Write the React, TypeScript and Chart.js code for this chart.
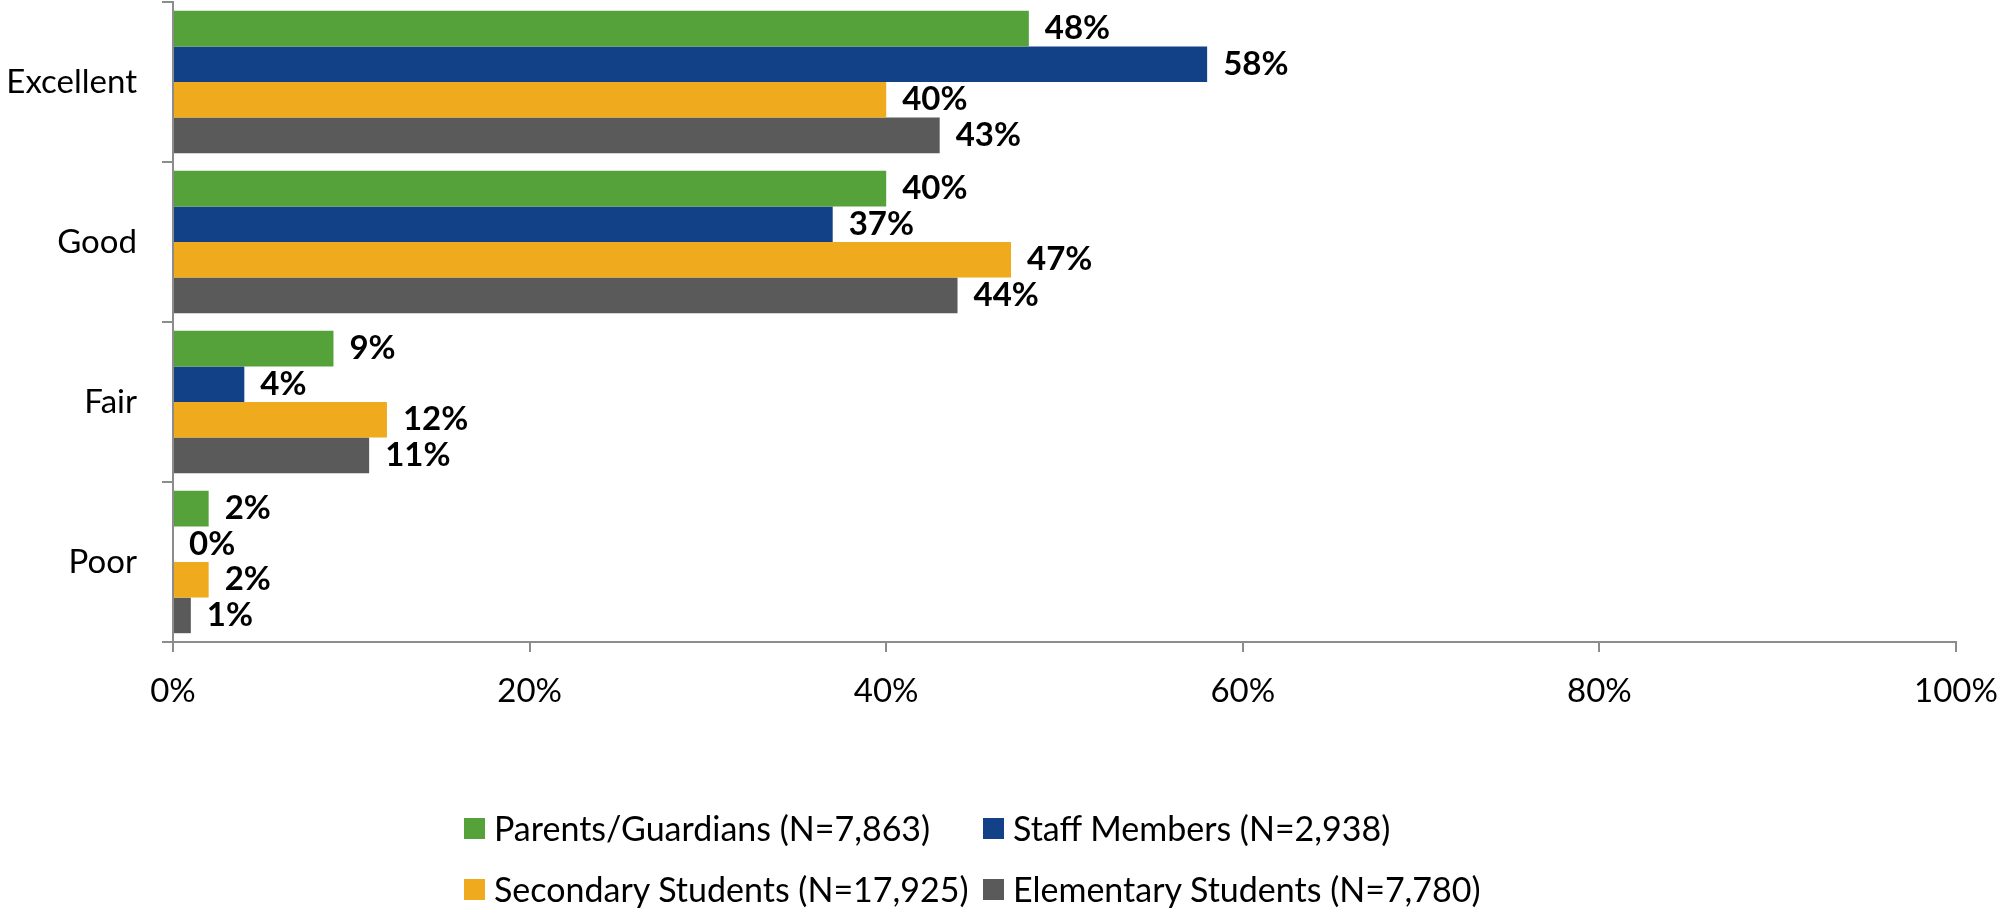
import React, { useEffect, useRef } from 'react';
import { Chart, registerables } from 'chart.js';

Chart.register(...registerables);

const categories = ['Excellent', 'Good', 'Fair', 'Poor'];
const seriesNames = [
  'Parents/Guardians (N=7,863)',
  'Staff Members (N=2,938)',
  'Secondary Students (N=17,925)',
  'Elementary Students (N=7,780)',
];
const parents = [48, 40, 9, 2];
const staff = [58, 37, 4, 0];
const secondary = [40, 47, 12, 2];
const elementary = [43, 44, 11, 1];
const xTicks = [0, 20, 40, 60, 80, 100];

const colors = ['#55A23A', '#134187', '#F0AA1E', '#5A5A5A'];
const AXIS = '#8C8C8C';
const FONT = 'Lato';
const FS = 33;
const LEGEND_FS = 34;

export default function App() {
  const ref = useRef<HTMLCanvasElement>(null);

  useEffect(() => {
    const labelPlugin = {
      id: 'barLabels',
      afterDatasetsDraw(chart: any) {
        const ctx = chart.ctx;
        ctx.save();
        ctx.font = `bold ${FS}px ${FONT}`;
        ctx.fillStyle = '#000';
        ctx.textAlign = 'left';
        ctx.textBaseline = 'middle';
        chart.data.datasets.forEach((ds: any, i: number) => {
          const meta = chart.getDatasetMeta(i);
          meta.data.forEach((el: any, j: number) => {
            ctx.fillText(`${ds.data[j]}%`, el.x + 16, el.y);
          });
        });
        ctx.restore();
      },
    };

    const seriesData = [parents, staff, secondary, elementary];
    const chart = new Chart(ref.current as HTMLCanvasElement, {
      type: 'bar',
      data: {
        labels: categories,
        datasets: seriesData.map((d, i) => ({
          label: seriesNames[i],
          data: d,
          backgroundColor: colors[i],
          borderWidth: 0,
          barPercentage: 1,
          categoryPercentage: 0.89,
        })),
      },
      options: {
        indexAxis: 'y',
        animation: false,
        responsive: true,
        maintainAspectRatio: false,
        layout: { padding: { left: 0, right: 41, top: 2, bottom: 207 } },
        plugins: { legend: { display: false }, tooltip: { enabled: false } },
        scales: {
          x: {
            min: 0,
            max: 100,
            afterBuildTicks: (s: any) => {
              s.ticks = xTicks.map((v) => ({ value: v }));
            },
            ticks: {
              callback: (v: any) => `${v}%`,
              font: { family: FONT, size: FS },
              color: '#000',
              padding: 20,
              maxRotation: 0,
              autoSkip: false,
            },
            grid: {
              drawOnChartArea: false,
              drawTicks: true,
              tickLength: 10,
              color: AXIS,
              lineWidth: 2,
            },
            border: { display: true, color: AXIS, width: 2 },
            afterFit: (s: any) => {
              s.height = 60;
              s.paddingLeft = 0;
              s.paddingRight = 0;
            },
          },
          y: {
            offset: true,
            ticks: {
              font: { family: FONT, size: FS },
              color: '#000',
              padding: 25,
            },
            grid: {
              offset: true,
              drawOnChartArea: false,
              drawTicks: true,
              tickLength: 11,
              color: AXIS,
              lineWidth: 2,
            },
            border: { display: true, color: AXIS, width: 2 },
            afterFit: (s: any) => {
              s.width = 173;
              s.paddingTop = 0;
              s.paddingBottom = 0;
            },
          },
        },
      } as any,
      plugins: [labelPlugin],
    });
    return () => chart.destroy();
  }, []);

  return (
    <div
      style={{
        position: 'fixed',
        left: 0,
        top: 0,
        width: 1997,
        height: 909,
        background: '#fff',
        overflow: 'hidden',
      }}
    >
      <div style={{ position: 'absolute', left: 0, top: 0, width: 1997, height: 909 }}>
        <canvas ref={ref} />
      </div>
      <div
        style={{
          position: 'absolute',
          left: 464,
          top: 808,
          display: 'grid',
          gridTemplateColumns: '519px 519px',
          rowGap: 21,
          fontFamily: FONT,
          fontSize: LEGEND_FS,
          lineHeight: '40px',
          color: '#000',
        }}
      >
        {seriesNames.map((n, i) => (
          <div key={n} style={{ display: 'flex', alignItems: 'center', whiteSpace: 'nowrap' }}>
            <span
              style={{
                display: 'inline-block',
                width: 21,
                height: 21,
                background: colors[i],
                marginRight: 9,
                flex: 'none',
              }}
            />
            <span>{n}</span>
          </div>
        ))}
      </div>
    </div>
  );
}
